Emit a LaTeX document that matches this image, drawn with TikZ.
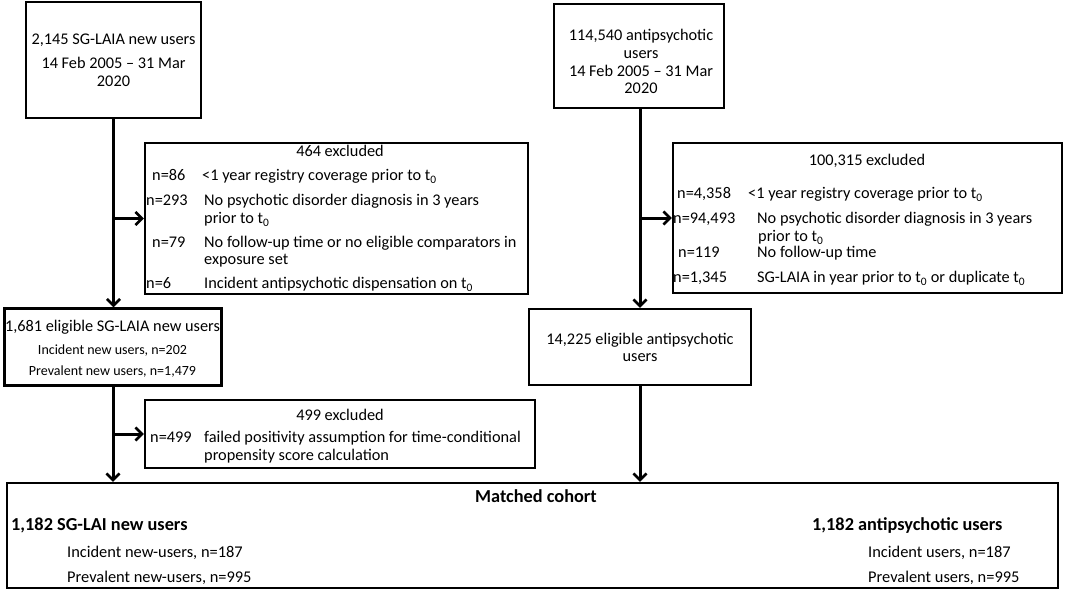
\documentclass[tikz,border=0pt]{standalone}
\usepackage{fontspec}
\setmainfont{Carlito}
\usetikzlibrary{arrows.meta}
\tikzset{
  box/.style={draw, line width=2.4pt, rectangle, inner sep=0pt},
  txt/.style={inner sep=0pt, font=\fontsize{16.3}{19}\selectfont},
  lt/.style={txt, anchor=mid west},
  ct/.style={txt, anchor=mid},
  sm/.style={inner sep=0pt, anchor=mid, font=\fontsize{14}{17}\selectfont},
  bt/.style={inner sep=0pt, font=\fontsize{18.3}{21}\selectfont\bfseries},
  rt/.style={inner sep=0pt, anchor=mid west, font=\fontsize{16.4}{19}\selectfont},
  arr/.style={line width=3pt, -{Straight Barb[length=6.5pt,width=13pt,line width=2.6pt]}}
}
\newcommand{\tz}{t\textsubscript{0}}
\begin{document}
\begin{tikzpicture}[x=1pt,y=-1pt]
\useasboundingbox (0,0) rectangle (1065,592);
% boxes
\node[box, minimum width=175pt, minimum height=116pt] (A) at (113.5,60) {};
\node[box, minimum width=170pt, minimum height=104pt] (B) at (639,56) {};
\node[box, minimum width=383pt, minimum height=151pt] (D) at (336.5,218.5) {};
\node[box, minimum width=389pt, minimum height=150pt] (G) at (867.5,218) {};
\node[box, minimum width=217pt, minimum height=77pt] (C) at (113,347) {};
\node[box, minimum width=222pt, minimum height=76pt] (F) at (640,347) {};
\node[box, minimum width=390pt, minimum height=68pt] (E) at (340,434) {};
\node[box, minimum width=1051pt, minimum height=105pt] (H) at (532.5,535.5) {};
\begin{scope}[shift={(0,3.5)}]
% box A text
\node[ct] (a1) at (113.5,39) {2,145 SG-LAIA new users};
\node[ct] (a2) at (113.5,63) {14 Feb 2005 -- 31 Mar};
\node[ct] (a3) at (113.5,81) {2020};
% box B text
\node[ct] (b1) at (641,35) {114,540 antipsychotic};
\node[ct] (b2) at (641,53) {users};
\node[ct] (b3) at (641,71) {14 Feb 2005 -- 31 Mar};
\node[ct] (b4) at (641,88) {2020};
% box D text
\node[ct] (d0) at (340,151) {464 excluded};
\node[lt] (d1n) at (152,175) {n=86};
\node[lt] (d1t) at (202,175) {<1 year registry coverage prior to \tz};
\node[lt] (d2n) at (146,200) {n=293};
\node[lt] (d2t) at (204,200) {No psychotic disorder diagnosis in 3 years};
\node[lt] (d2u) at (204,218) {prior to \tz};
\node[lt] (d3n) at (152,242) {n=79};
\node[lt] (d3t) at (204,242) {No follow-up time or no eligible comparators in};
\node[lt] (d3u) at (204,259) {exposure set};
\node[lt] (d4n) at (146,283) {n=6};
\node[lt] (d4t) at (204,283) {Incident antipsychotic dispensation on \tz};
% box G text
\node[ct] (g0) at (867,160) {100,315 excluded};
\node[lt] (g1n) at (677,193) {n=4,358};
\node[lt] (g1t) at (748,193) {<1 year registry coverage prior to \tz};
\node[lt] (g2n) at (673,218) {n=94,493};
\node[lt] (g2t) at (757,218) {No psychotic disorder diagnosis in 3 years};
\node[lt] (g2u) at (758,236) {prior to \tz};
\node[lt] (g3n) at (678,252) {n=119};
\node[lt] (g3t) at (757,252) {No follow-up time};
\node[lt] (g4n) at (673,277) {n=1,345};
\node[lt] (g4t) at (757,277) {SG-LAIA in year prior to \tz\ or duplicate \tz};
% box C text
\node[ct] (c1) at (112.5,326) {1,681 eligible SG-LAIA new users};
\node[sm] (c2) at (112.5,349) {Incident new users, n=202};
\node[sm] (c3) at (112.5,370) {Prevalent new users, n=1,479};
% box E text
\node[ct] (e0) at (340,415) {499 excluded};
\node[lt] (e1n) at (150,437) {n=499};
\node[lt] (e1t) at (204,437) {failed positivity assumption for time-conditional};
\node[lt] (e1u) at (204,455) {propensity score calculation};
% box F text
\node[ct] (f1) at (640,339) {14,225 eligible antipsychotic};
\node[ct] (f2) at (640,356) {users};
% box H text
\node[bt, anchor=mid] (h0) at (536,497) {Matched cohort};
\node[bt, anchor=mid west] (hl) at (11,525) {1,182 SG-LAI new users};
\node[rt] (hl1) at (67,552) {Incident new-users, n=187};
\node[rt] (hl2) at (67,577) {Prevalent new-users, n=995};
\node[bt, anchor=mid west] (hr) at (812,525) {1,182 antipsychotic users};
\node[rt] (hr1) at (868,552) {Incident users, n=187};
\node[rt] (hr2) at (868,577) {Prevalent users, n=995};
\end{scope}
% connectors
\draw[arr] (A.south) -- (A.south |- C.north);
\draw[arr] (A.south |- D.west) -- (D.west);
\draw[arr] (C.south) -- (C.south |- H.north);
\draw[arr] (C.south |- E.west) -- (E.west);
\draw[arr] (F.north |- B.south) -- (F.north);
\draw[arr] (F.north |- G.west) -- (G.west);
\draw[arr] (F.south) -- (F.south |- H.north);
\end{tikzpicture}
\end{document}
